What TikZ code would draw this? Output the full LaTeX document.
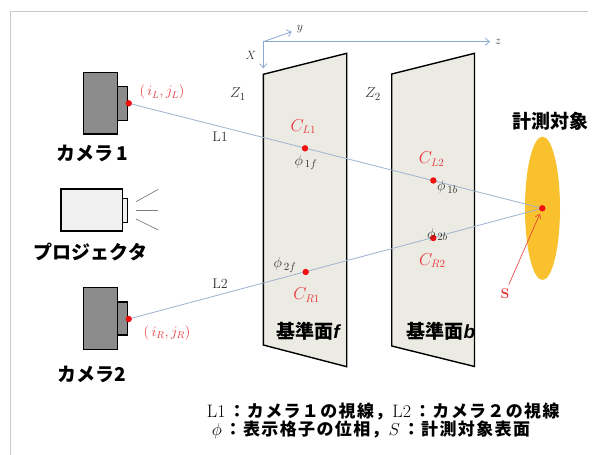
\documentclass[tikz,border=0pt]{standalone}
\usepackage{fontspec}
\newfontfamily\jp{Noto Sans CJK JP}
\newfontfamily\jpw{Noto Sans CJK JP}[LetterSpace=8]
\newfontfamily\lat{Liberation Sans}
\usetikzlibrary{arrows.meta}
\definecolor{framegray}{HTML}{C8C8C8}
\definecolor{planefill}{HTML}{ECEBE3}
\definecolor{bodygray}{HTML}{8C8C8C}
\definecolor{projfill}{HTML}{F0F0F0}
\definecolor{sightblue}{HTML}{9DB3CF}
\definecolor{axisblue}{HTML}{8EA9D0}
\definecolor{labelred}{HTML}{E8383D}
\definecolor{dotred}{HTML}{F01010}
\definecolor{objyellow}{HTML}{F9C12E}
\definecolor{symgray}{HTML}{333333}
\begin{document}
\begin{tikzpicture}[x=1pt,y=-1pt,
  plane/.style={draw=black,line width=1.4pt,fill=planefill,line join=miter},
  body/.style={draw=black,line width=1.3pt,fill=bodygray},
  projbody/.style={draw=black,line width=1.3pt,fill=projfill},
  ray/.style={draw=gray,line width=0.7pt},
  sight/.style={draw=sightblue,line width=0.8pt},
  axis/.style={draw=axisblue,line width=0.8pt,-{Straight Barb[length=4pt,width=7pt]}},
  axlabel/.style={font=\fontsize{12}{14}\selectfont,text=symgray},
  jplabel/.style={font=\jp\bfseries\fontsize{19}{22}\selectfont},
  redlabel/.style={font=\fontsize{16}{18}\selectfont,text=labelred},
  phlabel/.style={font=\fontsize{15}{17}\selectfont,text=symgray},
  lnlabel/.style={font=\fontsize{14}{16}\selectfont,text=symgray},
  zlabel/.style={font=\fontsize{15}{17}\selectfont,text=symgray},
  legend/.style={font=\jpw\bfseries\fontsize{17}{18}\selectfont,anchor=base west,inner sep=0pt,text height=12pt,text depth=2pt},
  dotr/.style={fill=dotred}
]
\useasboundingbox (0,0) rectangle (597,455);
\fill[white] (0,0) rectangle (597,455);
% frame
\draw[framegray,line width=0.8pt] (588,11) -- (10,11) -- (10,455);

% coordinate axes
\coordinate (O) at (263.3,41.7);
\coordinate (xend) at (263.3,68.3);
\coordinate (yend) at (291.7,31.7);
\coordinate (zend) at (490,41.7);
\draw[axis] (O) -- (xend);
\draw[axis] (O) -- (yend);
\draw[axis] (O) -- (zend);
\node[axlabel] (xl) at (251,55) {$X$};
\node[axlabel] (yl) at (300,29.5) {$y$};
\node[axlabel] (zl) at (498,41.5) {$z$};

% reference planes
\draw[plane] (263.3,74.3) -- (346.7,53.3) -- (346.7,366.7) -- (263.3,345) -- cycle;
\draw[plane] (391.7,74) -- (474.5,53.3) -- (474.5,366.5) -- (391.7,346) -- cycle;
\node[zlabel] (z1) at (238,94) {$Z_1$};
\node[zlabel] (z2) at (373,94) {$Z_2$};

% camera 1
\draw[body] (83.3,72.3) rectangle (117.7,134);
\draw[body] (117.7,86.7) rectangle (127.3,120.3);
\node[jplabel] (cam1) at (92,153.3) {カメラ\,1};
% projector
\draw[projbody] (61,189) rectangle (122.3,231);
\draw[projbody] (122.3,198.3) rectangle (127.3,222.3);
\draw[ray] (136,201.7) -- (158.3,189.3);
\draw[ray] (136,210.3) -- (158.3,210.3);
\draw[ray] (136,219) -- (158.3,230);
\node[jplabel] (proj) at (90.5,252.5) {プロジェクタ};
% camera 2
\draw[body] (83.3,287.3) rectangle (117.7,349.3);
\draw[body] (117.7,302) rectangle (127.3,335);
\node[jplabel] (cam2) at (92,374) {カメラ2};

% measured object
\fill[objyellow] (542.5,208.3) ellipse (17.5 and 71.7);
\node[jplabel] (objname) at (550,121.7) {計測対象};

% points
\coordinate (pL) at (128.7,103.3);
\coordinate (pR) at (128.7,319);
\coordinate (obj) at (542.3,208.3);
\coordinate (cl1) at (305,148.3);
\coordinate (cl2) at (433.3,180.5);
\coordinate (cr1) at (305.7,272);
\coordinate (cr2) at (433.3,238);

% lines of sight
\draw[sight] (pL) -- (obj);
\draw[sight] (pR) -- (obj);

\foreach \p in {pL,pR,obj,cl1,cl2,cr1,cr2} \fill[dotr] (\p) circle (3.2);

% labels on the lines
\node[lnlabel] (l1) at (220,136.7) {L1};
\node[lnlabel] (l2) at (220,283.3) {L2};
\node[redlabel,font=\fontsize{14}{16}\selectfont] (ijl) at (162,92.3) {$(\,i_L, j_L)$};
\node[redlabel,font=\fontsize{14}{16}\selectfont] (ijr) at (167,332.7) {$(\,i_R, j_R)$};
\node[redlabel] (tcl1) at (303.3,126.7) {$C_{L1}$};
\node[redlabel] (tcl2) at (431.7,159.3) {$C_{L2}$};
\node[redlabel] (tcr1) at (306.7,295) {$C_{R1}$};
\node[redlabel] (tcr2) at (432.3,260.7) {$C_{R2}$};
\node[phlabel] (p1f) at (306,162.7) {$\phi_{\,1f}$};
\node[phlabel] (p1b) at (447.5,187.3) {$\phi_{\,1b}$};
\node[phlabel] (p2f) at (285,265) {$\phi_{\,2f}$};
\node[phlabel] (p2b) at (437.5,234.5) {$\phi_{\,2b}$};

% surface marker
\node[text=labelred,font=\bfseries\fontsize{14}{16}\selectfont] (S) at (505,293.3) {S};
\draw[labelred,line width=0.6pt,-{Straight Barb[length=4pt,width=6pt]},shorten >=6pt] (S) -- (obj);

% plane names
\node[jplabel] (pf) at (308,331.7) {基準面{\lat\bfseries\itshape f}};
\node[jplabel] (pb) at (441,331.7) {基準面{\lat\bfseries\itshape b}};

% legend
\node[legend] (leg1) at (206.7,417.3) {{\rmfamily\mdseries\fontsize{18}{18}\selectfont L1\,}：カメラ１の視線，{\rmfamily\mdseries\fontsize{18}{18}\selectfont L2\,}：カメラ２の視線};
\node[legend] (leg2) at (211.7,435.1) {{\rmfamily\mdseries$\phi$\,}：表示格子の位相，{\rmfamily\mdseries$S$\,}：計測対象表面};
\end{tikzpicture}
\end{document}
